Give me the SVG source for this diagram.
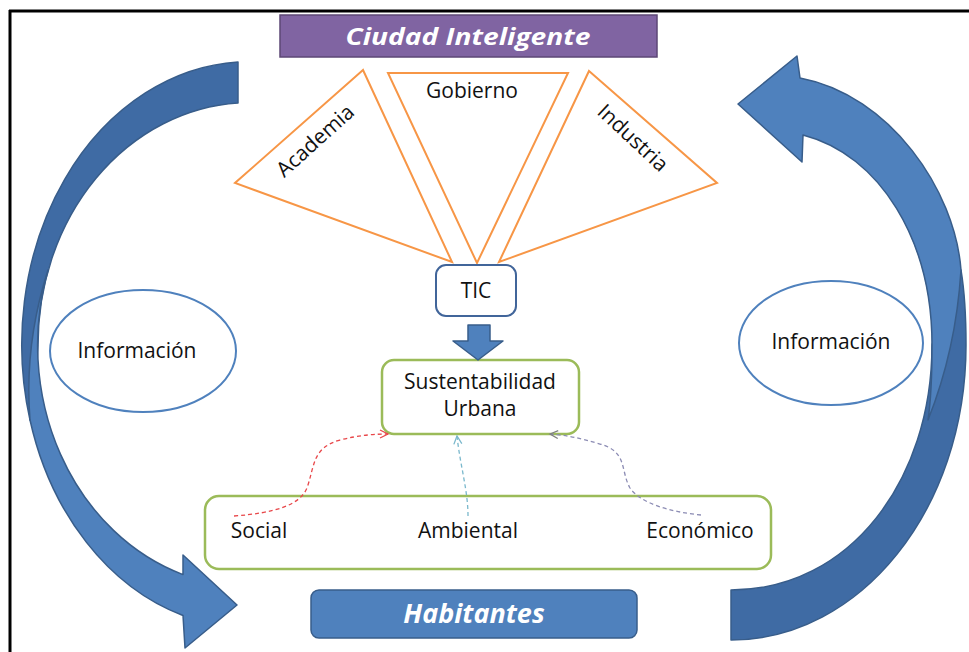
<svg xmlns="http://www.w3.org/2000/svg" width="969" height="652" viewBox="0 0 969 652">
<style>
.lbl{font-family:"Open Sans","Liberation Sans",sans-serif;font-size:21px;fill:#111;text-anchor:middle}
.ttl{font-family:"Open Sans","Liberation Sans",sans-serif;font-weight:bold;font-style:italic;fill:#fff;text-anchor:middle}
.tri{fill:#fff;stroke:#f79646;stroke-width:2;stroke-linejoin:miter}
.green{fill:#fff;stroke:#9bbb59;stroke-width:2.5}
.ell{fill:#fff;stroke:#4f81bd;stroke-width:2}
.light{fill:#4f81bd;stroke:#385d8a;stroke-width:1.5;stroke-linejoin:round}
.dark{fill:#3f6ba4;stroke:#385d8a;stroke-width:1.5;stroke-linejoin:round}
.dash{fill:none;stroke-width:1.3;stroke-dasharray:4 3}
</style>
<defs>
<marker id="hr" markerUnits="userSpaceOnUse" markerWidth="12" markerHeight="12" refX="9" refY="5" orient="auto"><path d="M1,1 L9,5 L1,9" fill="none" stroke="#e8474a" stroke-width="1.3"/></marker>
<marker id="hc" markerUnits="userSpaceOnUse" markerWidth="12" markerHeight="12" refX="9" refY="5" orient="auto"><path d="M1,1 L9,5 L1,9" fill="none" stroke="#7ab8cc" stroke-width="1.3"/></marker>
<marker id="hg" markerUnits="userSpaceOnUse" markerWidth="12" markerHeight="12" refX="9" refY="5" orient="auto"><path d="M1,1 L9,5 L1,9" fill="none" stroke="#808080" stroke-width="1.3"/></marker>
</defs>
<rect width="969" height="652" fill="#fff"/>
<g id="frame">
<line x1="9" y1="11" x2="969" y2="11" stroke="#000" stroke-width="3"/>
<line x1="10" y1="10" x2="10" y2="652" stroke="#000" stroke-width="3"/>
</g>
<g id="ciudad">
<rect x="280" y="15" width="377" height="42" fill="#8064a2" stroke="#5c4776" stroke-width="1.5"/>
<text class="ttl" x="468" y="45" font-size="24" textLength="245" lengthAdjust="spacingAndGlyphs">Ciudad Inteligente</text>
</g>
<g id="academia">
<polygon class="tri" points="363,70 235,183 452,262"/>
<text class="lbl" transform="translate(320,146) rotate(-42)">Academia</text>
</g>
<g id="gobierno">
<polygon class="tri" points="388,73 568,73 477,263"/>
<text class="lbl" x="472" y="98">Gobierno</text>
</g>
<g id="industria">
<polygon class="tri" points="589,71 717,183 499,262"/>
<text class="lbl" transform="translate(628,143) rotate(43)">Industria</text>
</g>
<g id="tic">
<rect x="436" y="265" width="80" height="51" rx="10" fill="#fff" stroke="#41659a" stroke-width="2"/>
<text class="lbl" x="476" y="298">TIC</text>
</g>
<g id="sustentabilidad">
<rect class="green" x="382" y="360" width="197" height="74" rx="12"/>
<text class="lbl" x="480" y="389">Sustentabilidad</text>
<text class="lbl" x="480" y="416">Urbana</text>
</g>
<g id="dimensiones">
<rect class="green" x="205" y="496" width="566" height="73" rx="14"/>
<text class="lbl" x="259" y="538">Social</text>
<text class="lbl" x="468" y="538">Ambiental</text>
<text class="lbl" x="700" y="538">Económico</text>
</g>
<g id="info-left">
<ellipse class="ell" cx="143" cy="351" rx="93" ry="61"/>
<text class="lbl" x="137" y="358">Información</text>
</g>
<g id="info-right">
<ellipse class="ell" cx="831" cy="343" rx="92" ry="62"/>
<text class="lbl" x="831" y="349">Información</text>
</g>
<g id="habitantes">
<rect x="311" y="590" width="326" height="48" rx="8" fill="#4f81bd" stroke="#385d8a" stroke-width="1.5"/>
<text class="ttl" x="474" y="623" font-size="27">Habitantes</text>
</g>
<g id="connectors">
<path class="dark" d="M238,62 A228 283 0 0 0 30,420 Q36,390 38,345 A212 242 0 0 1 238,103 Z"/>
<path class="light" d="M48,270 Q24,345 30,420 A228 283 0 0 0 183,615.5 L185,648 L237,605 L183,555 L183,574.6 A212 242 0 0 1 48,270 Z"/>
<path class="dark" d="M731,640 C860,640 966,510 966,345 Q966,300 961,270 Q944,300 932,345 C932,480 850,590 731,590 Z"/>
<path class="light" d="M928,420 Q956,350 961,270 C955,190 890,95 800,78 L797,56 L738,104 L802,162 L803,135 C880,155 932,240 932,345 C932,375 931,400 928,420 Z"/>
<path class="light" d="M468,325 L490,325 L490,341 L503,341 L478,360 L453,341 L468,341 Z"/>
<path class="dash" stroke="#e8474a" marker-end="url(#hr)" d="M234,516 C275,513 300,505 307,488 C315,465 312,448 340,440 C360,435 375,434 388,434"/>
<path class="dash" stroke="#7ab8cc" marker-end="url(#hc)" d="M468,516 C468,490 460,465 457,436"/>
<path class="dash" stroke="#8c8cb4" marker-end="url(#hg)" d="M701,515 C670,512 640,503 630,488 C620,470 628,452 600,444 C580,438 565,435 550,434"/>
</g>
</svg>
